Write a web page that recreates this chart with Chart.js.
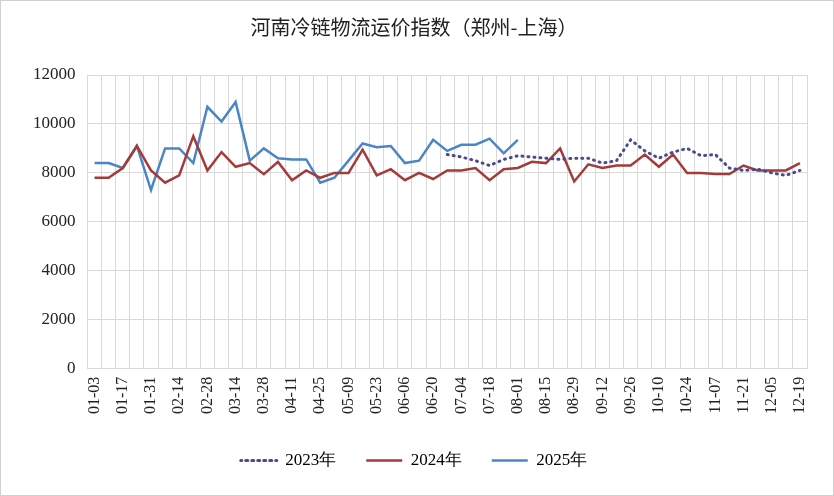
<!DOCTYPE html><html><head><meta charset="utf-8">
<script src="https://cdn.jsdelivr.net/npm/chart.js@4"></script>
<style>html,body{margin:0;background:#fff}#w{width:832px;height:494px;border:1px solid #d0d0d0;position:relative}</style></head><body>
<div id="w"><canvas id="c"></canvas></div>
<script>
const categories=[];(function(){let d=new Date(2023,0,3);for(let i=0;i<51;i++){const m=String(d.getMonth()+1).padStart(2,'0'),dd=String(d.getDate()).padStart(2,'0');categories.push(m+'-'+dd);d.setDate(d.getDate()+7);}})();
const s2023=[null,null,null,null,null,null,null,null,null,null,null,null,null,null,null,null,null,null,null,null,null,null,null,null,null,
8750,8650,8500,8300,8550,8700,8650,8600,8550,8600,8600,8400,8500,9350,8900,8600,8850,9000,8700,8750,8200,8100,8150,8000,7900,8100];
const s2024=[7800,7800,8200,9100,8100,7600,7900,9500,8100,8850,8250,8400,7950,8450,7700,8100,7800,8000,8000,8950,7900,8150,7700,8000,7750,8100,8100,8200,7700,8150,8200,8450,8400,9000,7650,8350,8200,8300,8300,8750,8250,8750,8000,8000,7950,7950,8300,8100,8100,8100,8400];
const s2025=[8400,8400,8200,9100,7300,9000,9000,8400,10700,10100,10900,8500,9000,8600,8550,8550,7600,7800,8500,9200,9050,9100,8400,8500,9350,8900,9150,9150,9400,8800,9350];
const yTicks=[0,2000,4000,6000,8000,10000,12000];
new Chart(document.getElementById('c'),{type:'line',data:{labels:categories,datasets:[
{label:'2023年',data:s2023,borderColor:'#4b4a8a',borderWidth:3,borderDash:[1,5],borderCapStyle:'round',pointRadius:0,fill:false},
{label:'2024年',data:s2024,borderColor:'#a33b3a',borderWidth:2.5,pointRadius:0},
{label:'2025年',data:s2025,borderColor:'#4a86c5',borderWidth:2.5,pointRadius:0}]},
options:{responsive:true,maintainAspectRatio:false,animation:false,
layout:{padding:{left:20,right:26,top:8,bottom:16}},
plugins:{title:{display:true,text:'河南冷链物流运价指数（郑州-上海）',font:{family:'Noto Sans CJK SC',size:20,weight:'normal'},color:'#222',padding:{top:6,bottom:36}},
legend:{position:'bottom',labels:{font:{family:'Liberation Serif',size:17},color:'#222',boxWidth:36,boxHeight:0,padding:30,
generateLabels(ch){return ch.data.datasets.map((d,i)=>({text:d.label,strokeStyle:d.borderColor,fillStyle:d.borderColor,lineWidth:d.borderWidth,lineDash:d.borderDash||[],lineCap:'round',datasetIndex:i}));}}}},
scales:{x:{offset:true,grid:{color:'#d9d9d9',offset:true,drawTicks:false},border:{color:'#d9d9d9'},
ticks:{autoSkip:false,maxRotation:90,minRotation:90,padding:8,color:'#222',font:{family:'Liberation Serif',size:16},callback(v,i){return i%2===0?categories[i]:'';}}},
y:{min:0,max:12000,afterBuildTicks(a){a.ticks=yTicks.map(v=>({value:v}));},grid:{color:'#d9d9d9',drawTicks:false},border:{display:false},
ticks:{padding:12,color:'#222',font:{family:'Liberation Serif',size:17},callback:v=>String(v)}}}}});
</script></body></html>
